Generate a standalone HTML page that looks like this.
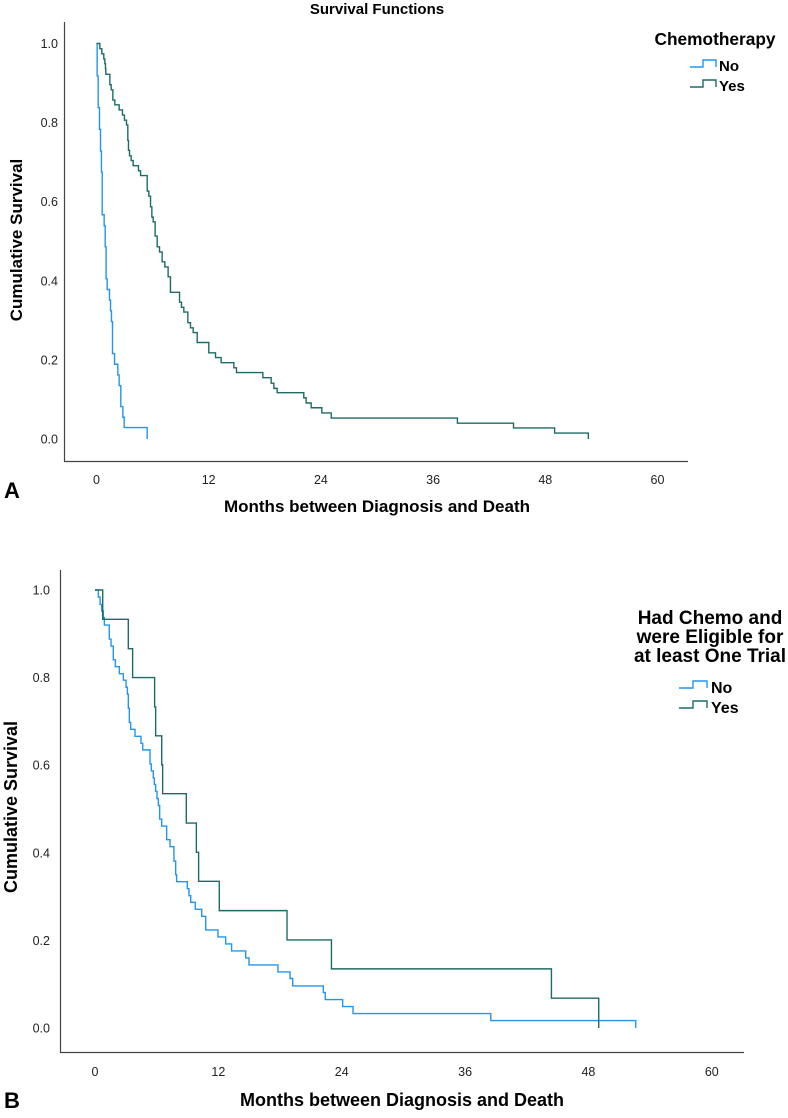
<!DOCTYPE html>
<html><head><meta charset="utf-8">
<style>
html,body{margin:0;padding:0;background:#fff;}
body{width:788px;height:1113px;overflow:hidden;font-family:"Liberation Sans",Arial,sans-serif;}
svg text{font-family:"Liberation Sans",Arial,sans-serif;}
</style></head>
<body>
<svg id="fig" width="788" height="1113" viewBox="0 0 788 1113" xmlns="http://www.w3.org/2000/svg">
  <text x="377" y="14" text-anchor="middle" font-size="15" font-weight="bold">Survival Functions</text>

  <!-- Panel A -->
  <g id="panelA">
    <line x1="64.5" y1="22" x2="64.5" y2="461.5" stroke="#444" stroke-width="1.2"/>
    <line x1="64" y1="461.5" x2="688" y2="461.5" stroke="#444" stroke-width="1.2"/>
    <g id="aYTicks"></g>
    <g id="aXTicks"></g>
    <g id="aCurves"></g>
    <text transform="translate(22,240) rotate(-90)" text-anchor="middle" font-size="17" font-weight="bold">Cumulative Survival</text>
    <text x="377" y="512" text-anchor="middle" font-size="17" font-weight="bold">Months between Diagnosis and Death</text>
    <text x="4" y="498" font-size="22" font-weight="bold">A</text>
    <text x="715" y="45" text-anchor="middle" font-size="17.3" font-weight="bold">Chemotherapy</text>
    <g>
      <path d="M690,67 H703 V60 H716 V67" fill="none" stroke="#2196f0" stroke-width="1.4"/>
      <text x="719" y="71" font-size="15" font-weight="bold">No</text>
    </g>
    <g>
      <path d="M690,87 H703 V80 H716 V87" fill="none" stroke="#1d6b66" stroke-width="1.4"/>
      <text x="719" y="91" font-size="15" font-weight="bold">Yes</text>
    </g>
  </g>

  <!-- Panel B -->
  <g id="panelB">
    <line x1="60.5" y1="570" x2="60.5" y2="1052.5" stroke="#444" stroke-width="1.2"/>
    <line x1="60" y1="1052.5" x2="744" y2="1052.5" stroke="#444" stroke-width="1.2"/>
    <g id="bYTicks"></g>
    <g id="bXTicks"></g>
    <g id="bCurves"></g>
    <text transform="translate(17,807) rotate(-90)" text-anchor="middle" font-size="18" font-weight="bold">Cumulative Survival</text>
    <text x="402" y="1106" text-anchor="middle" font-size="18" font-weight="bold">Months between Diagnosis and Death</text>
    <text x="4" y="1108" font-size="22" font-weight="bold">B</text>
    <g>
      <text x="710" y="624" text-anchor="middle" font-size="19" font-weight="bold">Had Chemo and</text>
      <text x="710" y="643" text-anchor="middle" font-size="19" font-weight="bold">were Eligible for</text>
      <text x="710" y="662" text-anchor="middle" font-size="19" font-weight="bold">at least One Trial</text>
    </g>
    <g>
      <path d="M679,688 H693 V681 H707 V688" fill="none" stroke="#2196f0" stroke-width="1.4"/>
      <text x="711" y="693" font-size="16" font-weight="bold">No</text>
    </g>
    <g>
      <path d="M679,708 H693 V701 H707 V708" fill="none" stroke="#1d6b66" stroke-width="1.4"/>
      <text x="711" y="713" font-size="16" font-weight="bold">Yes</text>
    </g>
  </g>
</svg>
<script>
var xTickValues = [0, 12, 24, 36, 48, 60];
var yTickValues = [0, 0.2, 0.4, 0.6, 0.8, 1.0];
var yTickLabels = ["0.0", "0.2", "0.4", "0.6", "0.8", "1.0"];

// Panel A: Chemotherapy No
var aNoTimes = [0.07,0.18,0.32,0.43,0.53,0.61,0.82,0.93,1.03,1.14,1.39,1.5,1.6,1.71,1.93,2.28,2.42,2.6,2.82,2.96];
var aNoSurv  = [0.918,0.838,0.783,0.728,0.675,0.567,0.539,0.486,0.405,0.378,0.351,0.324,0.297,0.216,0.189,0.162,0.135,0.082,0.055,0.029];
var aNoEnd = 5.42;
// Panel A: Chemotherapy Yes
var aYesTimes = [0.36,0.57,0.78,0.89,0.96,1.0,1.43,1.57,1.75,1.96,2.42,2.78,2.99,3.21,3.35,3.42,3.53,3.71,3.92,4.49,4.71,5.42,5.6,5.78,5.92,6.06,6.27,6.49,6.74,7.02,7.31,7.66,7.91,8.88,9.09,9.34,9.77,10.05,10.34,10.77,12.01,12.73,13.33,14.69,14.97,17.79,18.68,18.97,19.32,22.17,22.42,22.96,24.1,25.1,38.6,44.6,49.0];
var aYesSurv  = [0.987,0.974,0.961,0.949,0.936,0.922,0.896,0.883,0.857,0.845,0.832,0.819,0.806,0.794,0.755,0.730,0.716,0.704,0.691,0.678,0.666,0.627,0.614,0.587,0.561,0.549,0.513,0.486,0.473,0.448,0.435,0.410,0.371,0.346,0.333,0.321,0.294,0.281,0.269,0.244,0.218,0.206,0.193,0.180,0.168,0.155,0.141,0.128,0.117,0.104,0.091,0.079,0.066,0.053,0.040,0.028,0.015];
var aYesEnd = 52.6;

// Panel B: Eligible No
var bNoTimes = [0.32,0.49,0.65,0.81,0.91,1.39,1.56,1.78,1.98,2.37,2.76,3.02,3.15,3.24,3.34,3.47,3.89,4.47,4.64,5.35,5.48,5.67,5.77,5.9,6.03,6.16,6.29,6.49,6.97,7.3,7.68,7.85,7.94,8.98,9.14,9.31,9.76,10.38,10.77,11.96,12.71,13.29,14.66,14.98,17.8,18.97,19.23,22.21,22.4,24.09,25.1,38.5];
var bNoSurv  = [0.984,0.967,0.952,0.937,0.920,0.888,0.872,0.841,0.825,0.809,0.794,0.778,0.762,0.730,0.698,0.682,0.666,0.650,0.635,0.603,0.587,0.571,0.556,0.540,0.524,0.508,0.477,0.461,0.430,0.414,0.381,0.350,0.334,0.318,0.302,0.287,0.271,0.255,0.224,0.208,0.192,0.176,0.160,0.144,0.128,0.113,0.096,0.081,0.065,0.049,0.033,0.017];
var bNoEnd = 52.6;
// Panel B: Eligible Yes
var bYesTimes = [0.75,3.24,3.66,5.8,5.9,6.49,6.58,8.88,9.86,10.08,12.09,18.68,23.0,44.4];
var bYesSurv  = [0.933,0.866,0.800,0.733,0.667,0.601,0.535,0.468,0.401,0.335,0.268,0.201,0.135,0.068];
var bYesEnd = 49.0;

var NS = "http://www.w3.org/2000/svg";
function axisFns(x0, pxPerMonth, yTop, yBottom) {
  return {
    x: function (t) { return x0 + t * pxPerMonth; },
    y: function (s) { return yBottom - s * (yBottom - yTop); }
  };
}
var axA = axisFns(96.5, 9.35, 43.5, 439);
var axB = axisFns(95, 10.28, 590, 1028);

function drawTicks(ax, xGroup, yGroup, xLabelY, yLabelX, prefix) {
  var gx = document.getElementById(xGroup);
  for (var i = 0; i < xTickValues.length; i++) {
    var t = document.createElementNS(NS, "text");
    t.setAttribute("x", ax.x(xTickValues[i]));
    t.setAttribute("y", xLabelY);
    t.setAttribute("text-anchor", "middle");
    t.setAttribute("font-size", "12.5");
    t.setAttribute("fill", "#222");
    t.textContent = String(xTickValues[i]);
    
    
    gx.appendChild(t);
  }
  var gy = document.getElementById(yGroup);
  for (var j = 0; j < yTickValues.length; j++) {
    var u = document.createElementNS(NS, "text");
    u.setAttribute("x", yLabelX);
    u.setAttribute("y", ax.y(yTickValues[j]) + 4.5);
    u.setAttribute("text-anchor", "end");
    u.setAttribute("font-size", "12.5");
    u.setAttribute("fill", "#222");
    u.textContent = yTickLabels[j];
    
    
    gy.appendChild(u);
  }
}

function drawCurve(ax, group, times, surv, endT, color, name) {
  var d = "M" + ax.x(0) + "," + ax.y(1);
  for (var i = 0; i < times.length; i++) {
    d += " H" + ax.x(times[i]).toFixed(2) + " V" + ax.y(surv[i]).toFixed(2);
  }
  d += " H" + ax.x(endT).toFixed(2) + " V" + ax.y(0).toFixed(2);
  var p = document.createElementNS(NS, "path");
  p.setAttribute("d", d);
  p.setAttribute("fill", "none");
  p.setAttribute("stroke", color);
  p.setAttribute("stroke-width", "1.4");
  
  
  document.getElementById(group).appendChild(p);
}

drawTicks(axA, "aXTicks", "aYTicks", 484, 58, "panel-a");
drawTicks(axB, "bXTicks", "bYTicks", 1076, 50, "panel-b");
drawCurve(axA, "aCurves", aNoTimes, aNoSurv, aNoEnd, "#2196f0", "panel-a-curve-no");
drawCurve(axA, "aCurves", aYesTimes, aYesSurv, aYesEnd, "#1d6b66", "panel-a-curve-yes");
drawCurve(axB, "bCurves", bNoTimes, bNoSurv, bNoEnd, "#2196f0", "panel-b-curve-no");
drawCurve(axB, "bCurves", bYesTimes, bYesSurv, bYesEnd, "#1d6b66", "panel-b-curve-yes");
</script>
</body></html>
